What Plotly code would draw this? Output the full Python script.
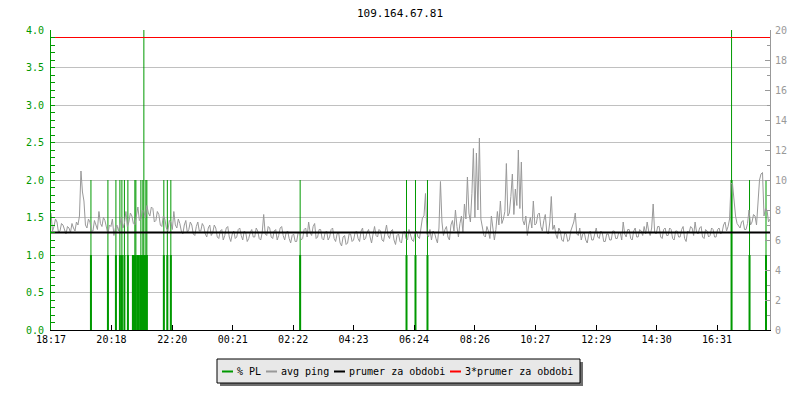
import plotly.graph_objects as go

# ---------------- data ----------------
title_text = "109.164.67.81"
x_tick_labels = ["18:17", "20:18", "22:20", "00:21", "02:22", "04:23",
                 "06:24", "08:26", "10:27", "12:29", "14:30", "16:31"]
start_label = "18:17"
span_minutes = 1440
ping_step_min = 3

# avg ping (right axis), one value every 3 minutes starting at 18:17
avg_ping = [
    7.8, 6.6, 6.9, 7.4, 7.2, 6.5, 6.6, 7.1, 7.0, 6.7, 6.4, 6.9, 6.8, 6.5, 7.1, 6.8, 6.6, 7.2, 7.0, 7.6,
    10.6, 9.2, 8.6, 7.0, 6.8, 7.4, 7.2, 6.6, 6.6, 7.3, 7.0, 6.7, 7.9, 7.1, 6.9, 7.5, 7.3, 6.8, 6.4, 7.0,
    6.9, 7.4, 6.3, 6.8, 7.0, 6.6, 7.2, 7.5, 6.8, 7.1, 7.9, 6.9, 7.2, 7.8, 7.6, 7.1, 7.0, 7.5, 8.2, 7.3,
    7.4, 8.0, 7.9, 7.5, 8.3, 7.8, 7.6, 8.2, 8.1, 7.2, 7.3, 7.9, 7.7, 7.0, 6.9, 7.6, 7.4, 6.8, 6.6, 7.3,
    7.2, 6.7, 7.9, 7.0, 6.8, 7.4, 7.1, 6.6, 6.4, 7.0, 7.3, 6.5, 6.7, 7.2, 7.0, 6.4, 6.3, 6.9, 7.2, 6.6,
    6.6, 7.1, 6.9, 6.4, 6.2, 6.8, 7.0, 6.3, 6.5, 7.0, 6.8, 6.2, 6.1, 6.6, 6.7, 6.0, 6.3, 6.8, 6.9, 6.2,
    5.9, 6.4, 6.6, 6.1, 6.2, 6.7, 6.8, 6.3, 6.0, 6.6, 6.5, 5.9, 6.1, 6.5, 6.7, 6.2, 6.2, 6.8, 6.6, 6.1,
    6.0, 6.5, 7.7, 6.4, 6.3, 6.9, 6.8, 6.2, 6.1, 6.6, 6.7, 6.0, 6.3, 6.8, 6.9, 6.3, 6.0, 6.5, 6.6, 6.1,
    5.8, 6.3, 6.4, 5.9, 5.9, 6.5, 6.5, 6.0, 6.1, 6.7, 6.8, 6.2, 7.2, 6.5, 6.3, 6.9, 7.1, 6.1, 6.2, 6.7,
    6.7, 6.1, 6.0, 6.5, 6.6, 6.0, 6.2, 6.7, 6.8, 6.1, 5.9, 6.4, 6.5, 5.8, 5.6, 6.2, 6.3, 5.7, 5.8, 6.4,
    6.4, 5.9, 6.0, 6.5, 6.6, 6.1, 5.9, 6.6, 6.8, 6.0, 6.1, 6.5, 6.7, 6.2, 5.8, 6.4, 6.9, 6.3, 6.2, 6.7,
    6.6, 6.0, 5.9, 6.5, 7.0, 6.3, 6.1, 6.6, 6.7, 6.0, 5.7, 6.3, 6.4, 5.9, 5.8, 6.5, 6.6, 6.1, 6.0, 6.7,
    6.4, 6.0, 5.9, 6.5, 6.6, 6.2, 6.1, 6.9, 7.5, 7.6, 9.1, 6.4, 6.2, 6.7, 6.0, 6.6, 6.5, 6.1, 5.8, 6.8,
    9.9, 7.2, 6.3, 6.7, 6.9, 6.2, 6.0, 7.0, 7.3, 6.6, 8.0, 6.9, 6.2, 7.1, 7.6, 6.5, 8.4, 7.4, 10.2, 7.8,
    7.2, 9.1, 12.1, 7.5, 11.8, 8.0, 12.8, 7.4, 6.8, 6.3, 6.2, 6.9, 6.6, 6.1, 7.6, 6.8, 6.0, 6.7, 7.9, 7.0,
    8.6, 7.1, 7.4, 7.9, 11.1, 7.6, 7.8, 8.9, 10.4, 7.7, 9.4, 8.3, 12.0, 8.1, 11.2, 7.3, 7.0, 7.6, 6.3, 7.0,
    7.5, 6.8, 8.6, 7.0, 7.1, 7.7, 7.8, 6.9, 6.6, 7.3, 7.7, 6.5, 6.4, 7.2, 8.9, 6.7, 7.0, 6.4, 6.1, 6.8,
    6.6, 6.0, 5.9, 6.5, 6.4, 5.9, 6.0, 6.6, 6.9, 7.2, 7.8, 6.4, 6.3, 6.8, 6.0, 6.4, 6.5, 6.0, 5.8, 6.4,
    6.6, 6.0, 6.0, 6.5, 6.8, 6.2, 6.1, 6.6, 6.5, 5.9, 5.9, 6.4, 6.4, 6.0, 6.0, 6.6, 6.6, 6.1, 6.1, 6.5,
    6.5, 6.0, 7.2, 6.4, 6.2, 6.7, 6.7, 6.1, 6.0, 6.6, 6.8, 6.2, 6.2, 6.7, 6.6, 6.3, 6.9, 6.4, 7.2, 6.6,
    6.3, 6.8, 8.4, 6.5, 6.4, 6.9, 6.9, 6.2, 6.1, 6.7, 6.8, 6.3, 6.3, 6.8, 6.7, 6.1, 6.0, 6.6, 6.6, 6.2,
    6.2, 6.7, 6.9, 6.1, 5.9, 6.6, 6.5, 6.9, 6.8, 6.3, 7.2, 6.5, 6.4, 6.8, 6.9, 6.2, 6.1, 6.7, 6.6, 6.2,
    6.3, 6.8, 6.7, 6.2, 6.2, 6.7, 6.8, 6.4, 6.5, 7.0, 7.2, 6.6, 6.9, 7.4, 9.8, 9.7, 8.5, 7.6, 7.1, 6.9,
    6.8, 7.2, 7.3, 6.7, 6.7, 7.1, 8.0, 7.0, 7.2, 7.7, 7.6, 7.0, 8.8, 10.0, 10.4, 10.5, 7.6, 8.1, 8.0, 7.2,
    7.4,
]

# packet loss events (left axis): minute offset, average and maximum % PL
pl_minutes = [80, 114, 130, 138, 142, 147, 154,
              164, 166, 168, 170, 174, 176, 180, 182, 184, 186, 188, 190, 192,
              226, 233, 240, 499, 712, 730, 754, 1363, 1399, 1432]
pl_avg = [1, 1, 1, 1, 1, 1, 1,
          1, 1, 1, 1, 1, 1, 1, 1, 1, 1, 1, 1, 1,
          1, 1, 1, 1, 1, 1, 1, 2, 1, 1]
pl_max = [2, 2, 2, 2, 2, 2, 2,
          1, 1, 2, 2, 1, 1, 2, 1, 2, 4, 1, 2, 2,
          2, 2, 2, 2, 2, 2, 2, 4, 2, 2]

mean_ping = 6.5

series_names = ["% PL", "avg ping", "prumer za obdobi", "3*prumer za obdobi"]
series_colors = ["#009900", "#999999", "#000000", "#ff0000"]

# ---------------- helpers ----------------
def to_min(label):
    h, m = map(int, label.split(":"))
    sh, sm = map(int, start_label.split(":"))
    return ((h * 60 + m) - (sh * 60 + sm)) % 1440

tick_vals = [to_min(l) for l in x_tick_labels]
ping_x = [i * ping_step_min for i in range(len(avg_ping))]

def spikes(xs, vals):
    sx, sy = [], []
    for x, v in zip(xs, vals):
        sx += [x, x, None]
        sy += [0, v, None]
    return sx, sy

FONT = "DejaVu Sans Mono"
GREEN, GREY, BLACK, RED = series_colors

fig = go.Figure()

mx, my = spikes(pl_minutes, pl_max)
fig.add_trace(go.Scatter(x=mx, y=my, mode="lines", line=dict(color=GREEN, width=1),
                         showlegend=False, hoverinfo="skip", yaxis="y"))
ax_, ay_ = spikes(pl_minutes, pl_avg)
fig.add_trace(go.Scatter(x=ax_, y=ay_, mode="lines", line=dict(color=GREEN, width=2),
                         showlegend=False, hoverinfo="skip", yaxis="y"))

fig.add_trace(go.Scatter(x=ping_x, y=avg_ping, mode="lines",
                         line=dict(color=GREY, width=1), showlegend=False, yaxis="y2"))
fig.add_trace(go.Scatter(x=[0, span_minutes], y=[mean_ping, mean_ping], mode="lines",
                         line=dict(color=BLACK, width=2), showlegend=False, yaxis="y2"))
fig.add_trace(go.Scatter(x=[0, span_minutes], y=[3 * mean_ping, 3 * mean_ping], mode="lines",
                         line=dict(color=RED, width=1), showlegend=False, yaxis="y2"))

# ---------------- layout ----------------
L, R, T, B = 51, 30, 30, 70
W, H = 800, 400
pw, ph = W - L - R, H - T - B

def px2paper(px, py):
    return (px - L) / pw, (H - B - py) / ph

shapes, annotations = [], []
# manual legend box (shadow + box)
box_l, box_r, box_t, box_b = 217, 580, 359, 383
x0, y0 = px2paper(box_l + 3, box_b + 3)
x1, y1 = px2paper(box_r + 3, box_t + 3)
shapes.append(dict(type="rect", xref="paper", yref="paper", x0=x0, y0=y0, x1=x1, y1=y1,
                   fillcolor="#6e6e6e", line=dict(width=0), layer="below"))
x0, y0 = px2paper(box_l, box_b)
x1, y1 = px2paper(box_r, box_t)
shapes.append(dict(type="rect", xref="paper", yref="paper", x0=x0, y0=y0, x1=x1, y1=y1,
                   fillcolor="#e8e8e8", line=dict(color="black", width=1), layer="above"))
cur = 222
ly = 371.5
for name, col in zip(series_names, series_colors):
    a0, b0 = px2paper(cur, ly)
    a1, _ = px2paper(cur + 11, ly)
    shapes.append(dict(type="line", xref="paper", yref="paper", x0=a0, x1=a1, y0=b0, y1=b0,
                       line=dict(color=col, width=2)))
    tx, ty = px2paper(cur + 14, ly)
    annotations.append(dict(xref="paper", yref="paper", x=tx, y=ty, text=name, showarrow=False,
                            xanchor="left", yanchor="middle", borderpad=0,
                            font=dict(family=FONT, size=10, color="black")))
    cur += 15 + 6.0 * len(name) + 5

fig.update_layout(
    width=W, height=H,
    margin=dict(l=L, r=R, t=T, b=B),
    paper_bgcolor="white", plot_bgcolor="white",
    font=dict(family=FONT, size=10, color="black"),
    title=dict(text=title_text, x=0.5, xanchor="center", y=1 - 13 / H, yanchor="middle",
               font=dict(family=FONT, size=11, color="black")),
    showlegend=False,
    xaxis=dict(range=[0, span_minutes], tickvals=tick_vals, ticktext=x_tick_labels,
               ticks="inside", ticklen=5, tickcolor="black", showline=True, linecolor="black",
               linewidth=1, showgrid=False, zeroline=False,
               tickfont=dict(family=FONT, size=10, color="black")),
    yaxis=dict(range=[0, 4], tickvals=[i * 0.5 for i in range(9)], tickformat=".1f",
               ticks="inside", ticklen=4, tickcolor=GREEN, showline=True, linecolor=GREEN,
               linewidth=1, showgrid=True, gridcolor="#c0c0c0", gridwidth=1, zeroline=False,
               tickfont=dict(family=FONT, size=10, color=GREEN), ticklabelstandoff=4,
               minor=dict(dtick=0.1, ticks="inside", ticklen=4, tickcolor=GREEN, showgrid=False)),
    yaxis2=dict(range=[0, 20], overlaying="y", side="right", tickvals=list(range(0, 21, 2)),
                ticks="inside", ticklen=5, tickcolor=GREY, showline=True, linecolor=GREY,
                linewidth=1, showgrid=False, zeroline=False,
                tickfont=dict(family=FONT, size=10, color=GREY), ticklabelstandoff=2,
                minor=dict(dtick=1, ticks="inside", ticklen=3, tickcolor=GREY, showgrid=False)),
    shapes=shapes, annotations=annotations,
)

fig.write_html("out.html", config={"displayModeBar": False},
               post_script="document.body.style.margin='0';")
